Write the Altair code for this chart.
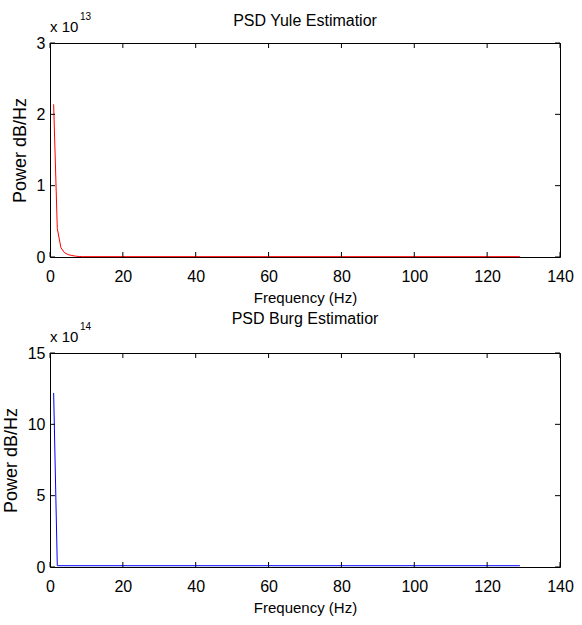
import altair as alt
import pandas as pd

# Yule-Walker AR power spectrum, one value per frequency bin (Hz)
yule_freq = [1, 2, 3, 4, 5, 6, 7, 8, 9, 129]
yule_power = [2.14e13, 0.40e13, 0.13e13, 0.06e13, 0.033e13, 0.021e13,
              0.012e13, 0.007e13, 0.005e13, 0.005e13]

# Burg AR power spectrum
burg_freq = [1, 2, 129]
burg_power = [12.2e14, 0.09e14, 0.09e14]

x_ticks = [0, 20, 40, 60, 80, 100, 120, 140]
yule_y_ticks = [0, 1e13, 2e13, 3e13]
burg_y_ticks = [0, 5e14, 10e14, 15e14]

FONT = "Liberation Sans"
W, H = 510, 214
TICK = 5


def text_layer(text, x, y, size, align="left"):
    return alt.Chart(pd.DataFrame({"t": [text]})).mark_text(
        font=FONT, fontSize=size, align=align, baseline="alphabetic", color="black"
    ).encode(x=alt.value(x), y=alt.value(y), text="t:N")


def panel(freq, power, color, yticks, exponent, title, title_y):
    xscale = alt.Scale(domain=[0, 140], nice=False, zero=False)
    yscale = alt.Scale(domain=[0, yticks[-1]], nice=False)
    x_axis = alt.Axis(
        values=x_ticks, ticks=False, tickSize=0, domain=False, grid=False,
        labelPadding=11, labelFont=FONT, labelFontSize=16, labelColor="black",
        labelFlush=False, title="Frequency (Hz)", titlePadding=6, titleFont=FONT,
        titleFontSize=15, titleFontWeight="normal", titleColor="black",
    )
    y_axis = alt.Axis(
        values=yticks, labelExpr=f"format(datum.value / pow(10, {exponent}), 'd')",
        ticks=False, tickSize=0, domain=False, grid=False, labelPadding=5,
        labelFont=FONT, labelFontSize=16, labelColor="black", labelFlush=False,
        title="Power dB/Hz", titlePadding=7, titleFont=FONT,
        titleFontSize=18, titleFontWeight="normal", titleColor="black",
    )

    df = pd.DataFrame({"freq": freq, "power": power})
    line = alt.Chart(df).mark_line(color=color, strokeWidth=1).encode(
        x=alt.X("freq:Q", scale=xscale, axis=x_axis),
        y=alt.Y("power:Q", scale=yscale, axis=y_axis),
    )

    # inward tick marks on all four sides of the box
    xt = alt.Chart(pd.DataFrame({"freq": x_ticks}))
    yt = alt.Chart(pd.DataFrame({"power": yticks}))
    tx = alt.X("freq:Q", scale=xscale, axis=x_axis)
    ty = alt.Y("power:Q", scale=yscale, axis=y_axis)
    bottom_ticks = xt.mark_rule(color="black").encode(x=tx, y=alt.value(H), y2=alt.value(H - TICK))
    top_ticks = xt.mark_rule(color="black").encode(x=tx, y=alt.value(0), y2=alt.value(TICK))
    left_ticks = yt.mark_rule(color="black").encode(y=ty, x=alt.value(0), x2=alt.value(TICK))
    right_ticks = yt.mark_rule(color="black").encode(y=ty, x=alt.value(W - TICK), x2=alt.value(W))

    title_text = text_layer(title, W / 2, title_y, 16, "center")
    mult = text_layer("x 10", 0, -11, 15)
    power_of_ten = text_layer(str(exponent), 30, -23, 10)

    return alt.layer(
        line, bottom_ticks, top_ticks, left_ticks, right_ticks,
        title_text, mult, power_of_ten,
    ).properties(width=W, height=H)


yule = panel(yule_freq, yule_power, "#ff0000", yule_y_ticks, 13, "PSD Yule Estimatior", -17)
burg = panel(burg_freq, burg_power, "#0000ff", burg_y_ticks, 14, "PSD Burg Estimatior", -29)

chart = alt.vconcat(yule, burg, spacing=96, bounds="flush").properties(
    padding={"left": 1, "top": 11, "right": 5, "bottom": 5},
    background="white",
).configure_view(stroke="black", strokeWidth=1)

chart.save("out.html", embed_options={"renderer": "svg", "actions": False})
